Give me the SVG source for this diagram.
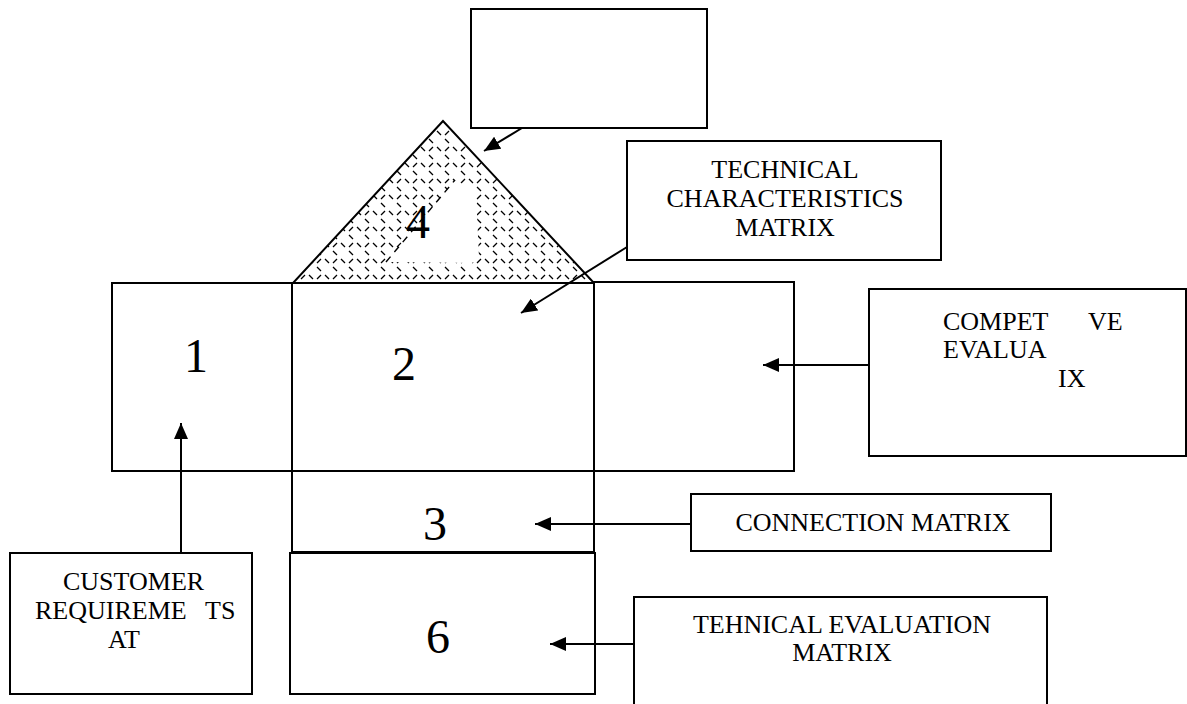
<svg xmlns="http://www.w3.org/2000/svg" width="1187" height="704" viewBox="0 0 1187 704">
<style>
.box{fill:#fff;stroke:#000;stroke-width:2}
.lbl{font-family:"Liberation Serif","Times New Roman",serif;font-size:26px;fill:#000}
.num{font-family:"Liberation Serif","Times New Roman",serif;font-size:48px;fill:#000}
.con{stroke:#000;stroke-width:2;fill:none;marker-end:url(#ah)}
</style>
<defs>
<marker id="ah" markerUnits="userSpaceOnUse" markerWidth="16" markerHeight="14" refX="16" refY="7" orient="auto">
<path d="M0,0 L16,7 L0,14 z" fill="#000"/>
</marker>
<pattern id="hatch" patternUnits="userSpaceOnUse" width="16" height="16" x="3" y="1">
<path d="M2,2 L6,6 M14,2 L10,6 M10,10 L14,14" stroke="#000" stroke-width="1.3" fill="none"/>
</pattern>
</defs>
<rect width="1187" height="704" fill="#fff"/>

<g id="n4">
<polygon points="443,121 293,283 594,283" fill="#fff"/>
<polygon points="443,121 293,283 594,283" fill="url(#hatch)"/>
<polygon points="386,262 455,180 476,192 479,258 472,263" fill="#fff"/>
<line x1="386" y1="262" x2="455" y2="180" stroke="#000" stroke-width="1.4" stroke-dasharray="7,6"/>
<polygon points="443,121 293,283 594,283" fill="none" stroke="#000" stroke-width="2"/>
<text class="num" x="418" y="238" text-anchor="middle">4</text>
</g>

<g id="top"><rect class="box" x="471" y="9" width="236" height="119"/></g>

<g id="n1"><rect class="box" x="112" y="283" width="180" height="188"/>
<text class="num" x="196" y="372" text-anchor="middle">1</text></g>

<g id="n2"><rect class="box" x="292" y="283" width="302" height="188"/>
<text class="num" x="404" y="380" text-anchor="middle">2</text></g>

<g id="n5"><rect class="box" x="594" y="282" width="200" height="189"/></g>

<g id="n3"><rect class="box" x="292" y="471" width="302" height="81"/>
<text class="num" x="435" y="540" text-anchor="middle">3</text></g>

<g id="n6"><rect class="box" x="290" y="553" width="305" height="141"/>
<text class="num" x="438" y="653" text-anchor="middle">6</text></g>

<g id="tc"><rect class="box" x="627" y="141" width="314" height="119"/>
<text class="lbl" text-anchor="middle"><tspan x="785" y="178">TECHNICAL</tspan><tspan x="785" y="207">CHARACTERISTICS</tspan><tspan x="785" y="236">MATRIX</tspan></text></g>

<g id="comp"><rect class="box" x="869" y="289" width="317" height="167"/>
<text class="lbl"><tspan x="943" y="330">COMPET</tspan><tspan x="1088" y="330">VE</tspan><tspan x="943" y="358">EVALUA</tspan><tspan x="1058" y="387">IX</tspan></text></g>

<g id="conn"><rect class="box" x="691" y="494" width="360" height="57"/>
<text class="lbl" x="873" y="531" text-anchor="middle">CONNECTION MATRIX</text></g>

<g id="tev"><rect class="box" x="634" y="597" width="413" height="115"/>
<text class="lbl" text-anchor="middle"><tspan x="842" y="633">TEHNICAL EVALUATION</tspan><tspan x="842" y="661">MATRIX</tspan></text></g>

<g id="cust"><rect class="box" x="10" y="553" width="242" height="141"/>
<text class="lbl"><tspan x="63" y="590">CUSTOMER</tspan><tspan x="35" y="619">REQUIREME</tspan><tspan x="205" y="619">TS</tspan><tspan x="108" y="648">AT</tspan></text></g>

<g id="connectors">
<line class="con" x1="522" y1="128" x2="484" y2="151"/>
<line class="con" x1="627" y1="247" x2="521" y2="313"/>
<line class="con" x1="869" y1="365" x2="763" y2="365"/>
<line class="con" x1="691" y1="524" x2="535" y2="524"/>
<line class="con" x1="634" y1="644" x2="550" y2="644"/>
<line class="con" x1="181" y1="553" x2="181" y2="423"/>
</g>
</svg>
